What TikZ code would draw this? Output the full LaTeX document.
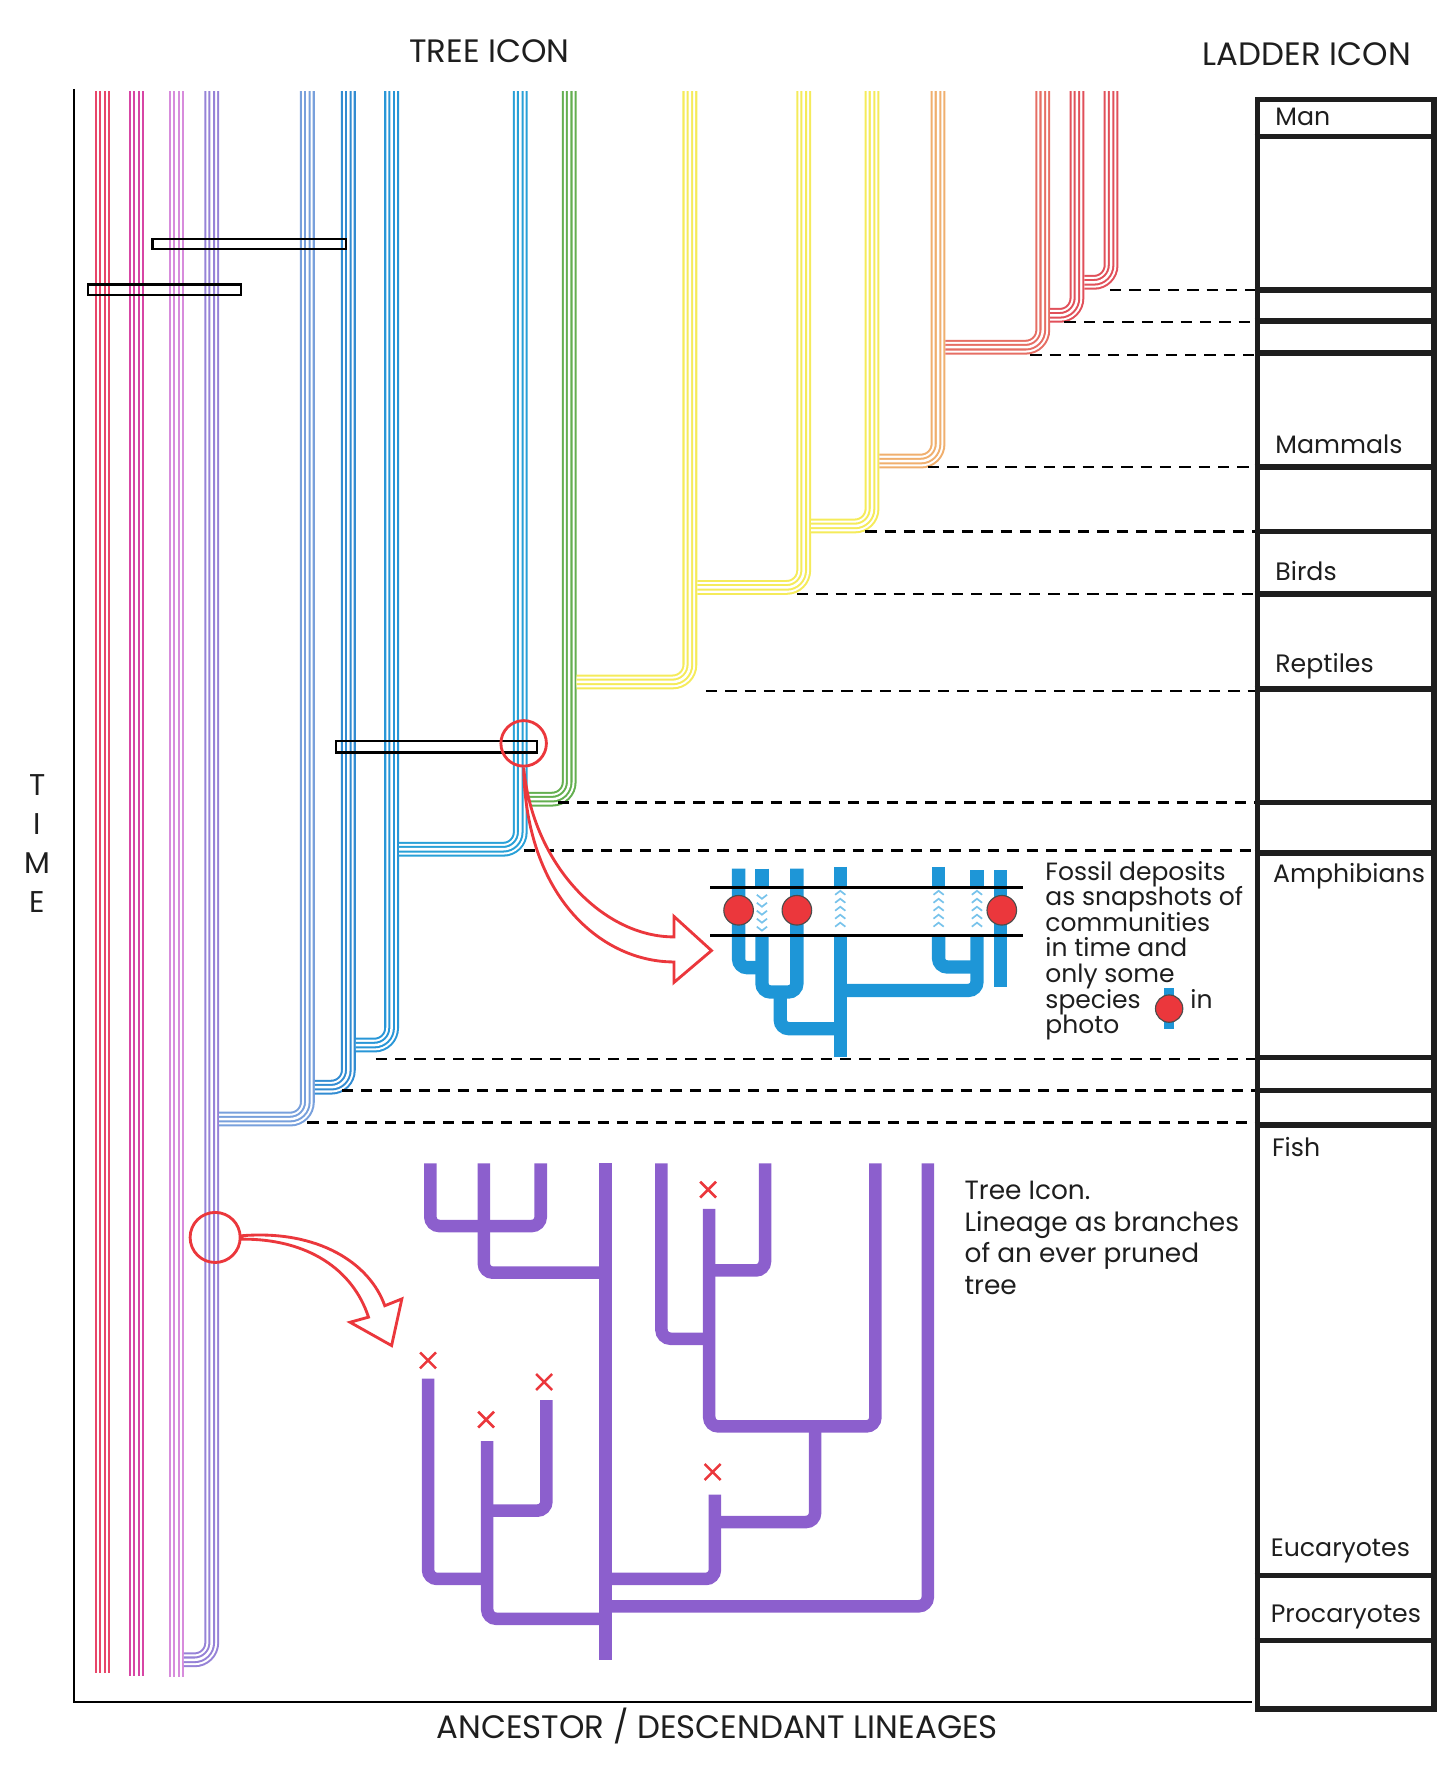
\documentclass[tikz,border=0pt]{standalone}
\usepackage{fontspec}
\setmainfont{Poppins}
\usepackage{tikz}
\usetikzlibrary{positioning}

\definecolor{crimson}{RGB}{232,70,105}
\definecolor{magent}{RGB}{215,70,165}
\definecolor{orchid}{RGB}{215,140,220}
\definecolor{lavender}{RGB}{150,130,215}
\definecolor{paleblue}{RGB}{120,160,220}
\definecolor{blueA}{RGB}{50,140,210}
\definecolor{blueB}{RGB}{40,150,215}
\definecolor{blueC}{RGB}{40,160,215}
\definecolor{grass}{RGB}{100,175,80}
\definecolor{lemon}{RGB}{245,235,90}
\definecolor{peach}{RGB}{240,175,110}
\definecolor{salmon}{RGB}{230,110,100}
\definecolor{rose}{RGB}{225,80,90}
\definecolor{purp}{RGB}{140,95,205}
\definecolor{fossilblue}{RGB}{30,150,215}
\definecolor{chevron}{RGB}{120,195,235}
\definecolor{xred}{RGB}{235,55,60}
\definecolor{ink}{RGB}{30,30,30}

% four thin parallel lines along one path
\newcommand{\lineage}[2]{%
  \draw[bundle=#1, line width=0.26cm] #2;
  \draw[bundle=white, line width=0.188cm] #2;
  \draw[bundle=#1, line width=0.116cm] #2;
  \draw[bundle=white, line width=0.044cm] #2;}

\begin{document}
\begin{tikzpicture}[x=0.02cm, y=-0.02cm,
    bundle/.style={draw=#1, rounded corners=0.3cm},
    twig/.style={draw=purp, line width=0.22cm, rounded corners=0.16cm},
    fbar/.style={draw=fossilblue, line width=0.234cm, rounded corners=0.15cm},
    cross/.style={draw=xred, line width=0.045cm},
    slab/.style={draw=black, line width=0.04cm},
    ring/.style={draw=xred, line width=0.05cm, circle, inner sep=0},
    hollow/.style={draw=xred, fill=white, line width=0.05cm, line join=miter},
    dashline/.style={draw=black, line width=0.04cm, dash pattern=on 0.2cm off 0.14cm},
    rung/.style={draw=ink, line width=0.1cm},
    dot/.style={circle, fill=xred, draw=black!70, line width=0.02cm, inner sep=0, minimum size=0.52cm},
    ttl/.style={font=\fontsize{16.2}{19}\selectfont, text=ink},
    lbl/.style={font=\fontsize{12.6}{15}\selectfont, text=ink, inner sep=0, anchor=west},
    note/.style={text=ink, inner sep=0, align=left, anchor=north west}
]
    \useasboundingbox (0,0) rectangle (1275,1568);

    % frame
    \draw[line width=0.04cm] (65,78) -- (65,1495) -- (1100,1495);

    % lineages of the tree icon
    \lineage{crimson}{(90,80) -- (90,1470)}
    \lineage{magent}{(120,80) -- (120,1472)}
    \lineage{orchid}{(155,80) -- (155,1473)}
    \lineage{lavender}{(186,80) -- (186,1458) -- (161.5,1458)}
    \lineage{paleblue}{(270,80) -- (270,983) -- (192.5,983)}
    \lineage{blueA}{(306,80) -- (306,955) -- (276.5,955)}
    \lineage{blueB}{(344,80) -- (344,918) -- (312.5,918)}
    \lineage{blueC}{(457,80) -- (457,746) -- (350.5,746)}
    \lineage{grass}{(500,80) -- (500,702) -- (463.5,702)}
    \lineage{lemon}{(606,80) -- (606,599) -- (506.5,599)}
    \lineage{lemon}{(706,80) -- (706,516) -- (612.5,516)}
    \lineage{lemon}{(766,80) -- (766,462) -- (712.5,462)}
    \lineage{peach}{(824,80) -- (824,405) -- (772.5,405)}
    \lineage{salmon}{(916,80) -- (916,305) -- (830.5,305)}
    \lineage{rose}{(946,80) -- (946,277) -- (922.5,277)}
    \lineage{rose}{(976,80) -- (976,248) -- (952.5,248)}

    % sampled slabs
    \draw[slab] (134,210) rectangle (304,219);
    \draw[slab] (77,250) rectangle (212,259);
    \draw[slab] (295,651) rectangle (472,661);

    % ladder icon
    \node[draw=ink, line width=0.1cm, minimum width=3.1cm, minimum height=28.28cm,
          anchor=north west, inner sep=0] (ladder) at (1102,85) {};
    \foreach \y in {120,255,282,310,410,467,522,605,705,749,929,958,988,1384,1441}
        \draw[rung] (1102,\y) -- (1258,\y);

    \node[lbl] (man)   at (1120,103)  {Man};
    \node[lbl] (mamm)  at (1120,390)  {Mammals};
    \node[lbl] (birds) at (1120,502)  {Birds};
    \node[lbl] (rept)  at (1120,585)  {Reptiles};
    \node[lbl] (amph)  at (1118,770)  {Amphibians};
    \node[lbl] (fish)  at (1117,1008) {Fish};
    \node[lbl] (euca)  at (1116,1362) {Eucaryotes};
    \node[lbl] (proca) at (1116,1420) {Procaryotes};

    % branching times carried over to the ladder
    \foreach \xs/\y in {975/255, 935/283, 905/312, 815/410, 760/467, 700/522,
                        620/607, 490/705, 460/747, 330/930, 300/958, 270/986}
        \draw[dashline] (\xs,\y) -- (\xs,\y -| ladder.west);

    % pruned tree (purple)
    \draw[twig] (378,1022) -- (378,1077) -- (475,1077) -- (475,1022);
    \draw[twig] (425,1022) -- (425,1118) -- (532,1118);
    \draw[twig] (532,1022) -- (532,1458);
    \draw[twig] (581,1022) -- (581,1176) -- (623,1176);
    \draw[twig] (672,1022) -- (672,1116) -- (623,1116);
    \draw[twig] (623,1062) -- (623,1253) -- (769,1253) -- (769,1022);
    \draw[twig] (716,1253) -- (716,1337) -- (628,1337);
    \draw[twig] (628,1313) -- (628,1387) -- (532,1387);
    \draw[twig] (815,1022) -- (815,1411) -- (532,1411);
    \draw[twig] (376,1211) -- (376,1387) -- (428,1387);
    \draw[twig] (428,1266) -- (428,1422) -- (532,1422);
    \draw[twig] (480,1230) -- (480,1327) -- (428,1327);
    \foreach \x/\y in {622/1045, 376/1195, 478/1214, 427/1247, 626/1293}
        \draw[cross] (\x-7,\y-7) -- (\x+7,\y+7) (\x-7,\y+7) -- (\x+7,\y-7);

    % fossil deposit inset (blue)
    \draw[fbar] (648.8,763) -- (648.8,850) -- (669.3,850);
    \draw[fbar] (669.3,763) -- (669.3,779);
    \draw[fbar] (669.3,822) -- (669.3,871.4) -- (700,871.4) -- (700,763);
    \draw[fbar] (685.4,871.4) -- (685.4,903.6) -- (738.1,903.6);
    \draw[fbar] (738.1,761.5) -- (738.1,779);
    \draw[fbar] (738.1,822) -- (738.1,928.5);
    \draw[fbar] (824.5,761.5) -- (824.5,779);
    \draw[fbar] (824.5,822) -- (824.5,849.4) -- (858.2,849.4);
    \draw[fbar] (858.2,764.5) -- (858.2,779);
    \draw[fbar] (858.2,822) -- (858.2,870) -- (738.1,870);
    \draw[fbar] (878.7,764.5) -- (878.7,867);
    \foreach \cx/\d in {669.3/1, 738.1/-1, 824.5/-1, 858.2/-1}
        \foreach \k in {0,...,4}
            \draw[chevron, line width=0.03cm] (\cx-4.5,786+\k*7) -- (\cx,786+\k*7+\d*3.5) -- (\cx+4.5,786+\k*7);
    \draw[line width=0.06cm] (624,779.7) -- (898.6,779.7);
    \draw[line width=0.06cm] (624,821.6) -- (898.6,821.6);
    \node[dot] (fosA) at (648.8,799.6) {};
    \node[dot] (fosB) at (700,799.6) {};
    \node[dot] (fosC) at (880,799.6) {};

    % zoom rings and arrows
    \node[ring, minimum size=0.8cm] (zoomA) at (460,653) {};
    \node[ring, minimum size=0.88cm] (zoomB) at (189,1087) {};
    \draw[hollow] (zoomA.south) .. controls (468,760) and (530,823) .. (592,823)
        -- (592,805) -- (625,835) -- (592,863) -- (592,845)
        .. controls (530,845) and (462,790) .. (zoomA.south) -- cycle;
    \draw[hollow] ([yshift=0.03cm]zoomB.east) .. controls (280,1080) and (325,1110) .. (338,1147)
        -- (353,1141) -- (344,1182) -- (307.5,1161.5) -- (323.7,1157)
        .. controls (310,1115) and (270,1088) .. ([yshift=-0.03cm]zoomB.east) -- cycle;

    % captions
    \node[note, font=\fontsize{12.5}{12.8}\selectfont] (fossiltxt) at (918,756)
        {Fossil deposits\\as snapshots of\\communities\\in time and\\only some\\species \hspace{1.45em} in\\photo};
    \draw[draw=fossilblue, line width=0.176cm] (1027,868) -- (1027,904);
    \node[dot, minimum size=0.48cm] (legdot) at (1027,886) {};
    \node[note, font=\fontsize{13.2}{15.9}\selectfont] (treetxt) at (847,1037)
        {Tree Icon.\\Lineage as branches\\of an ever pruned\\tree};

    \node[ttl] (treeicon) at (430,45)  {TREE ICON};
    \node[ttl] (laddericon) at (1148,48) {LADDER ICON};
    \node[ttl] (lineages) at (630,1516) {ANCESTOR / DESCENDANT LINEAGES};
    \node[ttl, align=center, font=\fontsize{15}{19.5}\selectfont] (timeaxis) at (33,741) {T\\I\\M\\E};
\end{tikzpicture}
\end{document}
